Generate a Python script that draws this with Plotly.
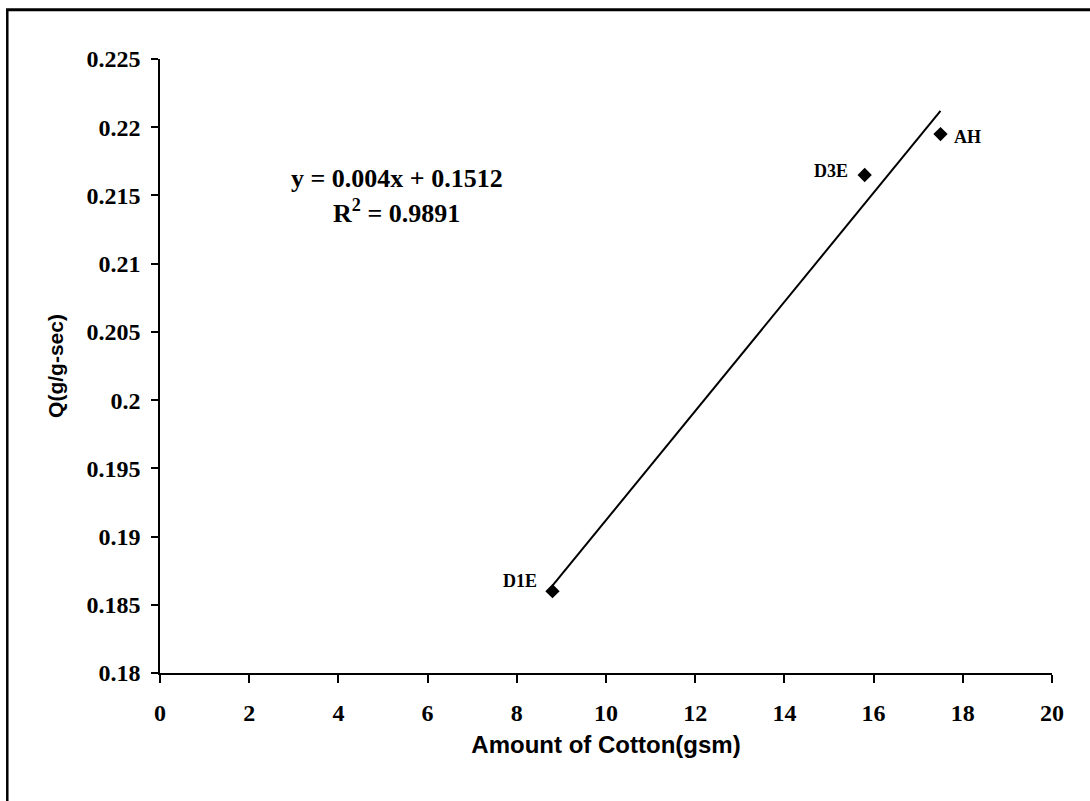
import plotly.graph_objects as go

# Data
names = ["D1E", "D3E", "AH"]
cotton = [8.8, 15.8, 17.5]
q_vals = [0.186, 0.2165, 0.2195]
slope = 0.004
intercept = 0.1512
eq_text = "y = 0.004x + 0.1512"
r2_text = "R<sup>2</sup> = 0.9891"
x_ticks = [0, 2, 4, 6, 8, 10, 12, 14, 16, 18, 20]
y_ticks = [0.18, 0.185, 0.19, 0.195, 0.2, 0.205, 0.21, 0.215, 0.22, 0.225]

W, H = 1090, 801
L, R, T, B = 160, 37.5, 59, 128
pw, ph = W - L - R, H - T - B

def px2paper_x(px):
    return (px - L) / pw

def px2paper_y(py):
    return (H - B - py) / ph

fig = go.Figure()

# trendline
x_line = [min(cotton), max(cotton)]
y_line = [slope * v + intercept for v in x_line]
fig.add_trace(go.Scatter(x=x_line, y=y_line, mode="lines",
                         line=dict(color="black", width=2),
                         hoverinfo="skip", showlegend=False))

fig.add_trace(go.Scatter(x=cotton, y=q_vals, mode="markers",
                         marker=dict(symbol="diamond", size=11, color="black"),
                         showlegend=False))

serif = "Liberation Serif, Times New Roman, serif"
sans = "Liberation Sans, Arial, sans-serif"

# point labels
offsets = {"D1E": (-13, 10, "right"), "D3E": (-15, 4, "right"), "AH": (11, -3, "left")}
for n, xv, yv in zip(names, cotton, q_vals):
    dx, dy, anc = offsets[n]
    fig.add_annotation(x=xv, y=yv, text=n, showarrow=False, xanchor=anc, yanchor="middle",
                       xshift=dx, yshift=dy,
                       font=dict(family=serif, size=18, color="black", weight="bold"))

# equation
fig.add_annotation(x=px2paper_x(397), y=px2paper_y(178), xref="paper", yref="paper",
                   text=eq_text, showarrow=False, xanchor="center", yanchor="middle",
                   font=dict(family=serif, size=26, color="black", weight="bold"))
fig.add_annotation(x=px2paper_x(397), y=px2paper_y(211), xref="paper", yref="paper",
                   text=r2_text, showarrow=False, xanchor="center", yanchor="middle",
                   font=dict(family=serif, size=26, color="black", weight="bold"))

# outer border (left and top lines)
fig.add_shape(type="line", xref="paper", yref="paper",
              x0=px2paper_x(7.2), x1=px2paper_x(7.2), y0=px2paper_y(9.8), y1=px2paper_y(802),
              line=dict(color="black", width=2.5))
fig.add_shape(type="line", xref="paper", yref="paper",
              x0=px2paper_x(6), x1=px2paper_x(1092), y0=px2paper_y(9.8), y1=px2paper_y(9.8),
              line=dict(color="black", width=3))

fig.update_xaxes(range=[0, 20], tickvals=x_ticks, ticktext=[str(v) for v in x_ticks],
                 showgrid=False, zeroline=False, showline=True, linecolor="black", linewidth=1.5,
                 ticks="outside", ticklen=8, tickcolor="black", tickwidth=1.5,
                 ticklabelstandoff=9,
                 tickfont=dict(family=serif, size=24, color="black", weight="bold"),
                 title=dict(text="Amount of Cotton(gsm)", standoff=12,
                            font=dict(family=sans, size=24, color="black", weight="bold")))
fig.update_yaxes(range=[0.18, 0.225], tickvals=y_ticks,
                 ticktext=[f"{v:g}" for v in y_ticks],
                 showgrid=False, zeroline=False, showline=True, linecolor="black", linewidth=1.5,
                 ticks="outside", ticklen=7, tickcolor="black", tickwidth=1.5,
                 ticklabelstandoff=6,
                 tickfont=dict(family=serif, size=24, color="black", weight="bold"),
                 title=dict(text="Q(g/g-sec)", standoff=17,
                            font=dict(family=sans, size=21, color="black", weight="bold")))

fig.update_layout(width=W, height=H, margin=dict(l=L, r=R, t=T, b=B, autoexpand=False),
                  paper_bgcolor="white", plot_bgcolor="white", showlegend=False)

fig.write_html("out.html", config={"displayModeBar": False},
               post_script="document.body.style.margin='0';document.body.style.overflow='hidden';")
